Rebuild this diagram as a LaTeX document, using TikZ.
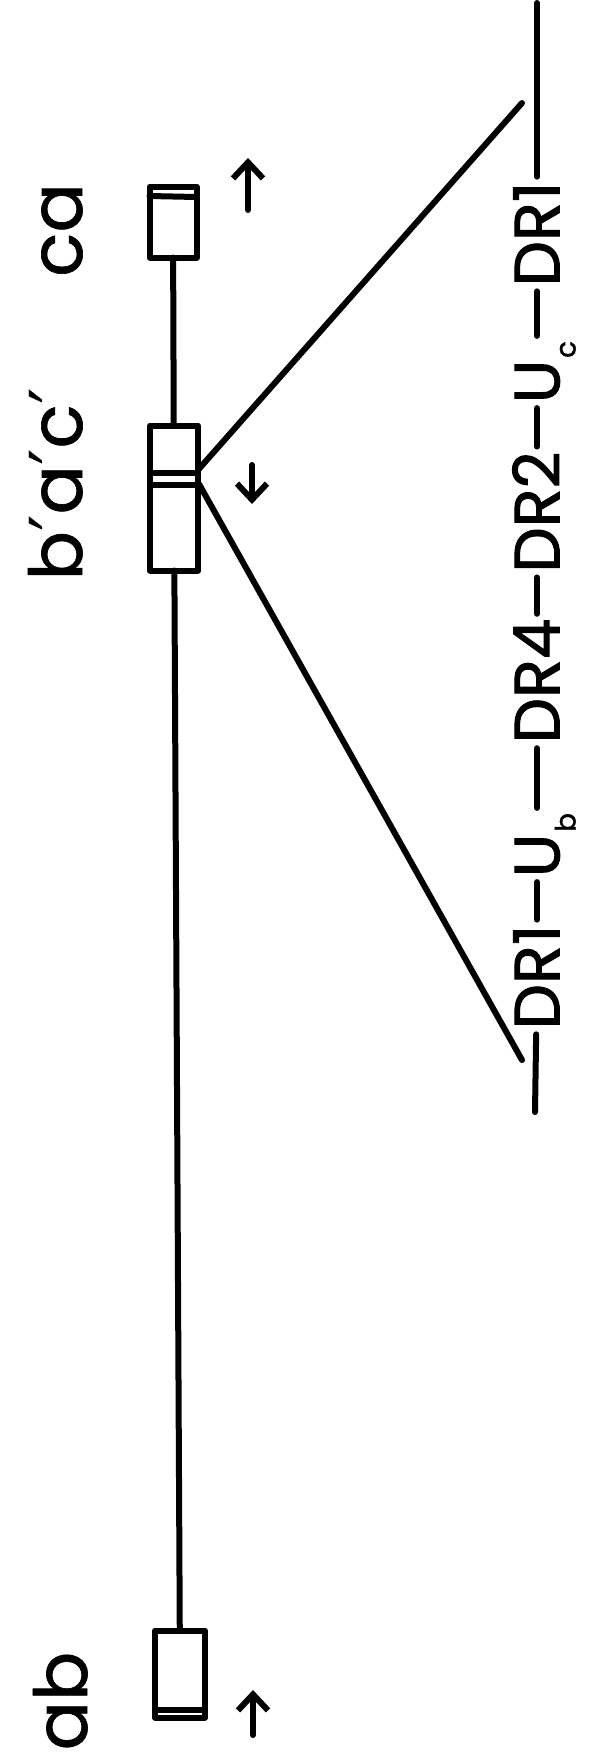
\documentclass[tikz,border=0pt]{standalone}
\usepackage{fontspec}
\setmainfont{Poppins}
\newfontfamily\lab[FakeBold=0.9]{Poppins}
\newfontfamily\seqf[FakeBold=1.5]{Poppins}
\newfontfamily\dv{DejaVu Sans}
\usetikzlibrary{arrows.meta,calc}
\newcommand{\subf}{\seqf\fontsize{14}{14}\selectfont}
\begin{document}
\begin{tikzpicture}[x=0.5pt,y=-0.5pt,
  ln/.style={line width=3pt,line cap=round,line join=round},
  box/.style={draw,line width=3pt,line join=round,inner sep=0pt,outer sep=0pt},
  seq/.style={rotate=90,inner xsep=2.5pt,inner ysep=0pt,outer sep=0pt,text height=22.5pt,text depth=0pt,font=\seqf\fontsize{32}{32}\selectfont},
  tag/.style={rotate=90,anchor=base,inner sep=0pt,font=\lab\fontsize{36.5}{36.5}\selectfont},
  arr/.style={ln,-{Straight Barb[length=8pt,width=15pt]}}
]
\fill[white] (0,0) rectangle (592,1752);
\useasboundingbox (0,0) rectangle (592,1752);

% boxes
\node[box,minimum width=23.5pt,minimum height=35.5pt] (ca) at (173,222) {};
\node[box,minimum width=24pt,minimum height=72.5pt] (bac) at (174,498) {};
\node[box,minimum width=25pt,minimum height=43.5pt] (ab) at (180,1674) {};

% bands
\draw[ln] (ca.west |- 0,196) -- (ca.east |- 0,197);
\draw[ln] (bac.west |- 0,473) -- (bac.east |- 0,473);
\draw[ln] (bac.west |- 0,484.5) -- (bac.east |- 0,484.5);
\draw[ln] (ab.west |- 0,1709.5) -- (ab.east |- 0,1709.5);

% main line
\draw[ln] (ca) -- (bac);
\draw[ln] (bac) -- (ab);

% diagonals
\coordinate (d1) at (198,470);
\coordinate (d2) at (199,484);
\coordinate (ue) at (522,103);
\coordinate (le) at (522,1060);
\draw[ln] (d1) -- (ue);
\draw[ln] (d2) -- (le);

% sequence
\node[seq] (s1) at (537,977) {DR1};
\node[seq] (s2) at (537,845) {U\kern1pt\raisebox{-8pt}[0pt][0pt]{\subf b}};
\node[seq] (s3) at (537,681) {DR4};
\node[seq] (s4) at (537,512) {DR2};
\node[seq] (s5) at (537,372) {U\kern1pt\raisebox{-8pt}[0pt][0pt]{\subf c}};
\node[seq] (s6) at (537,234) {DR1};
\coordinate (t0) at (535,1112);
\coordinate (t7) at (537,3);
\draw[ln] (t0) -- (s1);
\draw[ln] (s1) -- (s2);
\draw[ln] (s2) -- (s3);
\draw[ln] (s3) -- (s4);
\draw[ln] (s4) -- (s5);
\draw[ln] (s5) -- (s6);
\draw[ln] (s6) -- (t7);

% labels
\node[tag] (lca) at (82,230) {ca};
\node[tag] (lbac) at (82,484) {b{\dv ′}a{\dv ′}c{\dv ′}};
\node[tag] (lab) at (87,1701) {ab};

% arrows
\draw[arr] (248,210) -- (248,158);
\draw[arr] (252,465) -- (252,504);
\draw[arr] (253,1735) -- (253,1690);
\end{tikzpicture}
\end{document}
